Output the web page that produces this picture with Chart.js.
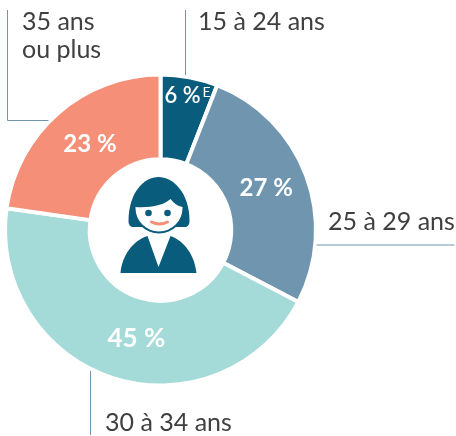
<!DOCTYPE html>
<html lang="fr">
<head>
<meta charset="utf-8">
<style>
html, body { margin: 0; padding: 0; background: #fff; }
canvas { display: block; }
</style>
<script src="https://cdn.jsdelivr.net/npm/chart.js@4/dist/chart.umd.min.js"></script>
</head>
<body>
<canvas id="chart" width="456" height="436"></canvas>
<script>
const categories = ['15 à 24 ans', '25 à 29 ans', '30 à 34 ans', '35 ans ou plus'];
const values = [6, 27, 45, 23];
const valueLabels = ['6 %', '27 %', '45 %', '23 %'];
const colors = ['#0a5c7d', '#6f96ae', '#a4dbd8', '#f58f77'];

const LINE = '#6f96ae';
const TEXT = '#404040';
const DARK = '#0a5c7d';

// outside labels and their leader lines
const outsideLabels = [
    { lines: ['15 à 24 ans'], x: 198, y: 22 },
    { lines: ['25 à 29 ans'], x: 328, y: 222 },
    { lines: ['30 à 34 ans'], x: 105, y: 423 },
    { lines: ['35 ans', 'ou plus'], x: 22, y: 22 }
];
const leaders = [
    [[185, 10], [185, 75]],
    [[316, 245], [454, 245]],
    [[90, 371], [90, 435]],
    [[7, 10], [7, 120.5], [48, 120.5]]
];
// value label tweaks: offset from slice middle and font size
const valueOffsets = [[7, -6], [-5, 0], [12, -4], [7, 3]];
const valueSizes = [22, 24, 26, 24];

function drawPerson(ctx, cx, cy) {
    ctx.save();
    ctx.translate(cx, cy);
    // body
    ctx.fillStyle = DARK;
    ctx.beginPath();
    ctx.moveTo(-40, 43);
    ctx.bezierCurveTo(-38, 25, -28, 11, -13, 6);
    ctx.lineTo(-2, 37);
    ctx.lineTo(10, 6);
    ctx.bezierCurveTo(24, 11, 34, 25, 36, 43);
    ctx.closePath();
    ctx.fill();
    // hair
    ctx.beginPath();
    ctx.moveTo(-32, -9);
    ctx.bezierCurveTo(-32, -38, -16, -53, -2, -53);
    ctx.bezierCurveTo(12, -53, 29, -38, 29, -9);
    ctx.bezierCurveTo(29, -5, 27, -3, 24, -3);
    ctx.lineTo(-27, -3);
    ctx.bezierCurveTo(-30, -3, -32, -5, -32, -9);
    ctx.closePath();
    ctx.fill();
    // chin line
    ctx.beginPath();
    ctx.arc(-1.5, -22, 25.5, 0, Math.PI);
    ctx.fill();
    // face
    ctx.fillStyle = '#fff';
    ctx.beginPath();
    ctx.moveTo(-25, -23);
    ctx.bezierCurveTo(-10, -22, 4, -25, 10, -31);
    ctx.bezierCurveTo(13, -27, 17, -24, 22, -23);
    ctx.arc(-1.5, -22, 23.5, 0, Math.PI);
    ctx.closePath();
    ctx.fill();
    // eyes
    ctx.fillStyle = DARK;
    ctx.beginPath();
    ctx.arc(-12, -17, 3.3, 0, Math.PI * 2);
    ctx.arc(7, -17, 3.3, 0, Math.PI * 2);
    ctx.fill();
    // mouth
    ctx.strokeStyle = '#f58f77';
    ctx.lineWidth = 3;
    ctx.lineCap = 'round';
    ctx.beginPath();
    ctx.moveTo(-9, -8);
    ctx.quadraticCurveTo(-1, -4, 7, -8);
    ctx.stroke();
    ctx.restore();
}

const decorations = {
    id: 'decorations',
    afterDraw(chart) {
        const ctx = chart.ctx;
        const arcs = chart.getDatasetMeta(0).data;
        ctx.save();

        ctx.strokeStyle = LINE;
        ctx.lineWidth = 1;
        leaders.forEach(points => {
            ctx.beginPath();
            points.forEach(([x, y], i) => {
                const px = Number.isInteger(x) ? x + 0.5 : x;
                if (i === 0) ctx.moveTo(px, y);
                else ctx.lineTo(px, y);
            });
            ctx.stroke();
        });

        ctx.fillStyle = TEXT;
        ctx.font = '25px Lato';
        ctx.textAlign = 'left';
        ctx.textBaseline = 'middle';
        outsideLabels.forEach(label => {
            label.lines.forEach((line, i) => {
                ctx.fillText(line, label.x, label.y + i * 28);
            });
        });

        // values inside the slices
        ctx.fillStyle = '#fff';
        ctx.textAlign = 'center';
        arcs.forEach((arc, i) => {
            const mid = (arc.startAngle + arc.endAngle) / 2;
            const r = arc.innerRadius + (arc.outerRadius - arc.innerRadius) * (i === 0 ? 0.7 : 0.56);
            const x = arc.x + Math.cos(mid) * r - (i === 0 ? 9 : 0) + valueOffsets[i][0];
            const y = arc.y + Math.sin(mid) * r + valueOffsets[i][1];
            ctx.font = `${i === 0 ? 600 : 700} ${valueSizes[i]}px Lato`;
            ctx.fillText(valueLabels[i], x, y);
            if (i === 0) {
                ctx.font = '14px Lato';
                ctx.fillText('E', x + 24, y - 4);
            }
        });
        ctx.restore();

        drawPerson(ctx, arcs[0].x, arcs[0].y);
    }
};

new Chart(document.getElementById('chart'), {
    type: 'doughnut',
    data: {
        labels: categories,
        datasets: [{
            data: values,
            backgroundColor: colors,
            borderColor: '#fff',
            borderWidth: 4
        }]
    },
    options: {
        responsive: false,
        animation: false,
        cutout: '45.5%',
        layout: { padding: { left: 3, top: 72, right: 138, bottom: 48 } },
        plugins: {
            legend: { display: false },
            tooltip: { enabled: false }
        }
    },
    plugins: [decorations]
});
</script>
</body>
</html>
